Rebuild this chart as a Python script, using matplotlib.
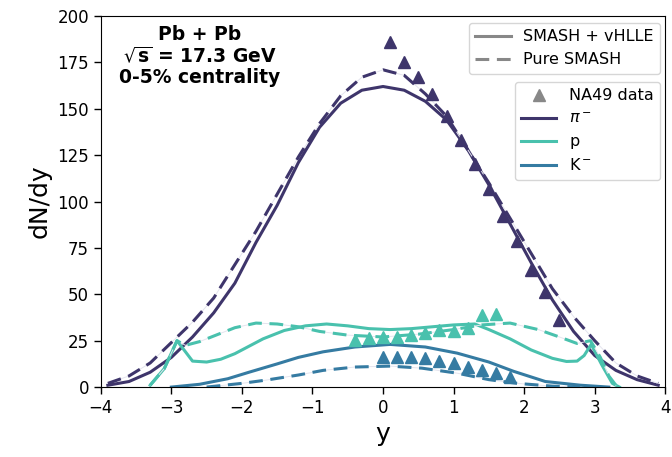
import matplotlib
matplotlib.use('Agg')
import matplotlib.pyplot as plt
from matplotlib.lines import Line2D
import numpy as np

# colours (mako palette, 3 entries)
c_pi = '#3e356b'
c_k = '#357ba2'
c_p = '#49c1ad'
c_leg = '#888888'

# pi- : SMASH + vHLLE (solid) and pure SMASH (dashed)
y_pi = [-3.9, -3.6, -3.3, -3.0, -2.7, -2.4, -2.1, -1.8, -1.5, -1.2, -0.9, -0.6, -0.3, 0.0,
        0.3, 0.6, 0.9, 1.2, 1.5, 1.8, 2.1, 2.4, 2.7, 3.0, 3.3, 3.6, 3.9]
pi_hydro = [1, 3, 8, 16, 27, 40, 56, 78, 98, 121, 140, 153, 160, 162,
            160, 154, 144, 128, 109, 88, 67, 47, 30, 17, 9, 4, 1]
pi_smash = [2, 6, 13, 24, 35, 48, 66, 84, 104, 124, 142, 157, 167, 171,
            168, 158, 146, 128, 110, 91, 72, 53, 38, 25, 13, 6, 2]

# protons
y_p_hydro = [-3.3, -3.1, -2.92, -2.7, -2.5, -2.3, -2.1, -1.9, -1.7, -1.4, -1.1, -0.8, -0.5, -0.2, 0.1,
             0.4, 0.7, 1.0, 1.3, 1.5, 1.8, 2.1, 2.4, 2.6, 2.75, 2.85, 2.95, 3.1, 3.25, 3.35]
p_hydro = [1, 10, 25, 14, 13.5, 15, 18, 22, 26, 30.5, 33, 34, 33, 31.5, 31,
           31.5, 32.5, 33.5, 34, 31, 26, 20, 15.5, 13.8, 14, 17, 23, 12, 2, 0]
y_p_smash = [-3.3, -3.1, -2.92, -2.8, -2.6, -2.4, -2.1, -1.8, -1.5, -1.2, -0.9, -0.5, 0.0,
             0.5, 1.0, 1.4, 1.8, 2.2, 2.5, 2.75, 2.94, 3.08, 3.2, 3.3]
p_smash = [1, 10, 25, 22.5, 24.5, 27.5, 32, 34.5, 34, 32.5, 30, 28, 27,
           28.5, 31, 33.5, 34.5, 31, 27, 23.5, 25, 16, 6, 1]

# K-
y_k_hydro = [-3.0, -2.6, -2.2, -1.9, -1.5, -1.2, -0.85, -0.4, 0.1, 0.6, 1.05, 1.5, 1.85, 2.3, 2.8, 3.2]
k_hydro = [0, 1.5, 4.5, 8, 12.5, 16, 19, 21.6, 23, 21.6, 18.3, 13.5, 8.5, 3, 1, 0]
y_k_smash = [-2.5, -2.0, -1.65, -1.2, -0.85, -0.4, 0.1, 0.55, 1.05, 1.5, 1.9, 2.4, 2.8]
k_smash = [0, 2, 3.8, 6.5, 9, 10.8, 11.3, 10.2, 7.5, 4, 2, 0.5, 0]

# NA49 data
y_na49_pi = [0.1, 0.3, 0.5, 0.7, 0.9, 1.1, 1.3, 1.5, 1.7, 1.9, 2.1, 2.3, 2.5]
na49_pi = [186, 175, 167, 158, 146, 133, 120, 107, 92, 79, 63, 51, 36]
y_na49_p = [-0.4, -0.2, 0.0, 0.2, 0.4, 0.6, 0.8, 1.0, 1.2, 1.4, 1.6]
na49_p = [25.3, 26.5, 27, 27, 28, 29, 30.7, 30, 32, 39, 39.5]
y_na49_k = [0.0, 0.2, 0.4, 0.6, 0.8, 1.0, 1.2, 1.4, 1.6, 1.8]
na49_k = [16.3, 16.3, 16, 15.6, 14.2, 12.9, 11, 9.2, 7.5, 5.5]

fig = plt.figure(figsize=(6.72, 4.57), dpi=100)
ax = fig.add_axes([0.150, 0.153, 0.840, 0.812])

lw = 2.2
dash = [4.5, 2.5]
curves = [(y_pi, pi_hydro, y_pi, pi_smash, c_pi),
          (y_p_hydro, p_hydro, y_p_smash, p_smash, c_p),
          (y_k_hydro, k_hydro, y_k_smash, k_smash, c_k)]
for yh, vh, ys, vs, col in curves:
    ax.plot(yh, vh, color=col, lw=lw, zorder=2)
    ax.plot(ys, vs, color='#e4e4ee', lw=0.7, zorder=2.5)
    ax.plot(ys, vs, color=col, lw=lw, dashes=dash, zorder=3)

for yd, vd, col in [(y_na49_pi, na49_pi, c_pi), (y_na49_p, na49_p, c_p), (y_na49_k, na49_k, c_k)]:
    ax.plot(yd, vd, ls='none', marker='^', ms=9, color=col, zorder=4)

ax.set_xlim(-4, 4)
ax.set_ylim(0, 200)
ax.set_xticks(np.arange(-4, 5, 1))
ax.set_yticks(np.arange(0, 201, 25))
ax.tick_params(labelsize=12, length=5, width=1)
ax.set_xlabel('y', fontsize=18)
ax.set_ylabel('dN/dy', fontsize=18)

ax.text(0.175, 0.975, 'Pb + Pb\n' + r'$\sqrt{\mathbf{s}}$' + ' = 17.3 GeV\n0-5% centrality',
        transform=ax.transAxes, ha='center', va='top', fontsize=13.5,
        fontweight='bold', linespacing=1.1)

h1 = [Line2D([], [], color=c_leg, lw=lw),
      Line2D([], [], color=c_leg, lw=lw, dashes=dash)]
leg1 = ax.legend(h1, ['SMASH + vHLLE', 'Pure SMASH'], loc='upper right',
                 bbox_to_anchor=(0.991, 0.981), borderaxespad=0, fontsize=11.5,
                 handlelength=2.2)
ax.add_artist(leg1)

h2 = [Line2D([], [], ls='none', marker='^', ms=9, color=c_leg),
      Line2D([], [], color=c_pi, lw=lw),
      Line2D([], [], color=c_p, lw=lw),
      Line2D([], [], color=c_k, lw=lw)]
ax.legend(h2, ['NA49 data', r'$\pi^-$', 'p', r'K$^-$'], loc='upper right',
          bbox_to_anchor=(0.991, 0.822), borderaxespad=0, fontsize=11.5,
          handlelength=2.2)

plt.savefig('out.png', dpi=100)
